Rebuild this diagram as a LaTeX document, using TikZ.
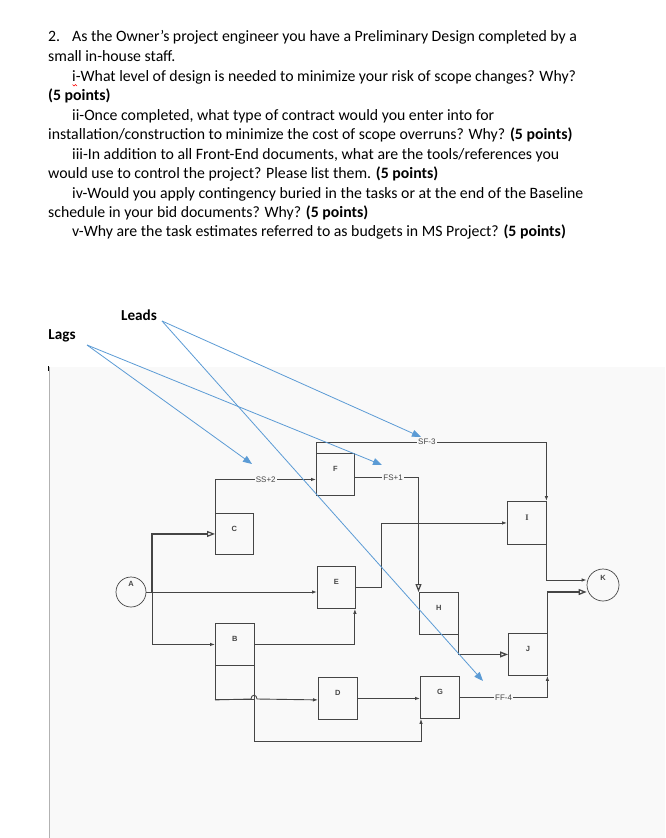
\documentclass[tikz,border=0pt]{standalone}
\usepackage{fontspec}
\setmainfont{Carlito}
\newfontfamily\scanfont{Liberation Sans}
\newfontfamily\scanserif{Liberation Serif}
\usetikzlibrary{arrows.meta,calc}
\definecolor{bgscan}{HTML}{F9F9F9}
\definecolor{ink}{HTML}{454545}
\definecolor{annot}{HTML}{5B9BD5}
\tikzset{
  smallarr/.tip={Latex[length=5pt,width=3.5pt]},
  openarr/.tip={Triangle[open,length=8pt,width=6pt]},
  bluearr/.tip={Triangle[length=9pt,width=7pt]},
  qtext/.style={anchor=mid west, inner sep=0pt, font=\fontsize{15.8}{18}\selectfont},
  bold/.style={qtext, font=\fontsize{15.2}{18}\selectfont\bfseries, anchor=center},
  lbl/.style={font=\scanfont\bfseries\fontsize{7.5}{8}\selectfont, text=ink, yshift=5.5pt},
  box/.style={draw=ink, line width=0.9pt, anchor=north west, inner sep=0pt,
              minimum width=39pt, minimum height=42pt},
  circ/.style={draw=ink, line width=0.7pt, circle, inner sep=0pt},
  link/.style={draw=ink, line width=0.9pt},
  lag/.style={fill=bgscan, inner sep=1pt, text=ink, font=\scanfont\fontsize{8}{9}\selectfont},
  annot/.style={draw=annot, line width=0.8pt, -{bluearr}},
}
\begin{document}
\begin{tikzpicture}[x=1pt,y=-1pt]
\useasboundingbox (0,0) rectangle (665,838);
\fill[white] (0,0) rectangle (665,838);
% scanned area
\fill[bgscan] (49,367) rectangle (665,838);
\draw[black!30, line width=1pt] (49.5,367) -- (49.5,838);
\draw[black, line width=1.5pt] (48.5,366) -- (48.5,371);

% question text
\node[qtext] (t1) at (48,39.5) {\makebox[24pt][l]{2.}As the Owner’s project engineer you have a Preliminary Design completed by a};
\node[qtext] (t2) at (48,59.2) {small in-house staff.};
\node[qtext] (t3) at (72,79.2) {i-What level of design is needed to minimize your risk of scope changes? Why?};
\node[qtext] (t4) at (48,98.2) {\textbf{(5 points)}};
\node[qtext] (t5) at (72,118.2) {ii-Once completed, what type of contract would you enter into for};
\node[qtext] (t6) at (48,137.5) {installation/construction to minimize the cost of scope overruns? Why? \textbf{(5 points)}};
\node[qtext] (t7) at (72,156.8) {iii-In addition to all Front-End documents, what are the tools/references you};
\node[qtext] (t8) at (48,175.8) {would use to control the project? Please list them. \textbf{(5 points)}};
\node[qtext] (t9) at (72,195.8) {iv-Would you apply contingency buried in the tasks or at the end of the Baseline};
\node[qtext] (t10) at (48,214.8) {schedule in your bid documents? Why? \textbf{(5 points)}};
\node[qtext] (t11) at (72,234.2) {v-Why are the task estimates referred to as budgets in MS Project? \textbf{(5 points)}};
% spell-check squiggle under i
\draw[red, line width=0.6pt] (72.5,84.5) -- (74,86) -- (75.5,84.5) -- (77,86);

% annotation labels
\node[bold] (lags) at (62,336) {Lags};
\node[bold] (leads) at (139,315.5) {Leads};

% network
\node[circ, minimum size=30pt, label={[lbl,yshift=3pt]center:A}] (A) at (131,592) {};
\node[circ, minimum size=32pt, label={[lbl,yshift=1.5pt]center:K}] (K) at (603,585) {};
\node[box, minimum width=38pt, minimum height=41pt, label={[lbl]center:C}] (C) at (215,513) {};
\node[box, minimum width=38pt, label={[lbl]center:F}] (F) at (316,453) {};
\node[box, minimum width=38pt, label={[lbl]center:E}] (E) at (317,566) {};
\node[box, label={[lbl]center:B}] (B) at (215,623) {};
\node[box, minimum height=34pt] (Bl) at (215,665) {};
\node[box, label={[lbl]center:D}] (D) at (318,677) {};
\node[box, label={[lbl]center:H}] (H) at (419,592) {};
\node[box, label={[lbl]center:G}] (G) at (420,676) {};
\node[box, minimum height=43pt, label={[lbl,font=\scanserif\bfseries\fontsize{8.5}{9}\selectfont]center:I}] (I) at (507,501) {};
\node[box, label={[lbl]center:J}] (J) at (508,633) {};

\coordinate (jA) at (152,592);
\coordinate (sfc) at (316.5,442);

\draw[link, line width=1.2pt, -{openarr}] (jA) |- (C.west);
\draw[link, -{smallarr}] (jA) |- (B.west);
\draw[link, -{smallarr}] (A.east) -- (A.east -| E.west);
\draw[link, -{smallarr}] (B.east) -| ([xshift=-1pt]E.south east);
\draw[link, -{smallarr}] ([xshift=0.5pt]C.north west) |- node[lag, pos=0.75] {SS+2} ([yshift=-5pt]F.west);
\draw[link, line width=1.2pt, -{openarr}] ([yshift=-3pt]F.east) -| node[lag, pos=0.3] {FS+1} ([xshift=-0.5pt]H.north west);
\draw[link, -{smallarr}] ([xshift=0.5pt]F.north west) -- (sfc) -| node[lag, pos=0.24] {SF-3} ([xshift=-0.5pt]I.north east);
\draw[link, -{smallarr}] (E.east) -- ++(26,0) |- (I.west);
\draw[link, -{smallarr}] ([xshift=-0.5pt]I.south east) |- ([yshift=5pt]K.west);
\draw[link, line width=1.3pt, -{openarr}] ([xshift=-0.5pt]J.north east) |- ([yshift=-7pt]K.west);
\draw[link, line width=1.3pt, -{openarr}] ([xshift=-0.5pt]H.south east) |- (J.west);
\draw[link, -{smallarr}] (D.east) -- (D.east -| G.west);
\draw[link, -{smallarr}] (G.east) -| node[lag, pos=0.25] {FF-4} ([xshift=-0.5pt]J.south east);
\draw[link, -{smallarr}] (Bl.south west) -- (251,699) .. controls (251,694) and (257,694) .. (257,699) -- (D.west |- Bl.south west);
\draw[link, -{smallarr}] (Bl.south east) -- ++(0,42) -| ([xshift=1pt]G.south west);

% annotation arrows
\coordinate (lagsp) at (87,345);
\coordinate (leadsp) at (162,321);
\coordinate (ssT) at (252,464);
\coordinate (fsT) at (382,465);
\coordinate (sfT) at (421,437);
\coordinate (ffT) at (483,681);
\draw[annot] (lagsp) -- (ssT);
\draw[annot] (lagsp) -- (fsT);
\draw[annot] (leadsp) -- (sfT);
\draw[annot] (leadsp) -- (ffT);
\end{tikzpicture}
\end{document}
